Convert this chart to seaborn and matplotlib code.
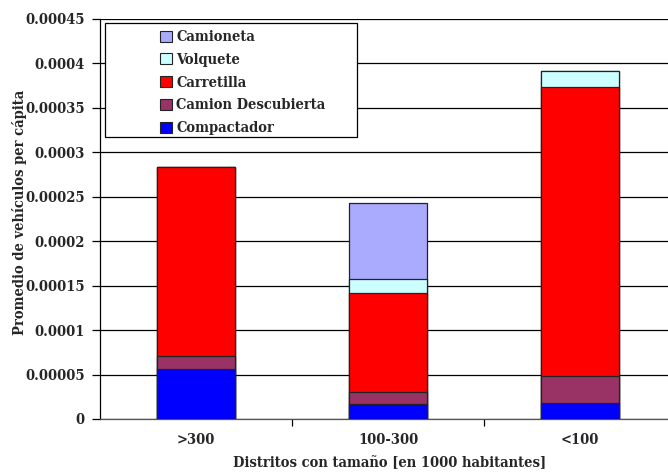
import matplotlib
matplotlib.use("Agg")
import matplotlib.pyplot as plt
from matplotlib.patches import Patch, Rectangle
import numpy as np
import pandas as pd
import seaborn as sns

# District size groups (thousand inhabitants)
districts = [">300", "100-300", "<100"]

# Average vehicles per capita, by vehicle type (bottom to top of the stack)
compactador = [0.0000560, 0.0000165, 0.0000177]
camion_descubierta = [0.0000150, 0.0000142, 0.0000307]
carretilla = [0.0002126, 0.0001107, 0.0003248]
volquete = [0.0, 0.0000165, 0.0000187]
camioneta = [0.0, 0.0000854, 0.0]

series_names = ["Compactador", "Camion Descubierta", "Carretilla", "Volquete", "Camioneta"]
series_values = [compactador, camion_descubierta, carretilla, volquete, camioneta]
series_colors = ["#0000FF", "#993366", "#FF0000", "#CCFFFF", "#AAAAFF"]

y_ticks = [0, 0.00005, 0.0001, 0.00015, 0.0002, 0.00025, 0.0003, 0.00035, 0.0004, 0.00045]
y_tick_labels = ["0", "0.00005", "0.0001", "0.00015", "0.0002", "0.00025",
                 "0.0003", "0.00035", "0.0004", "0.00045"]

sns.set_theme(style="white")
plt.rcParams["font.family"] = ["DejaVu Serif"]
plt.rcParams["font.weight"] = "bold"
plt.rcParams["font.stretch"] = "condensed"

FS = 10.5
fig = plt.figure(figsize=(6.68, 4.72), dpi=100)
ax = fig.add_axes([100 / 668, 53 / 472, 576 / 668, 400 / 472])

# Stacked bars: draw cumulative totals from the top segment downwards
cum = np.cumsum(np.array(series_values), axis=0)
for i in range(len(series_names) - 1, -1, -1):
    df = pd.DataFrame({"district": districts, "value": cum[i]})
    sns.barplot(data=df, x="district", y="value", color=series_colors[i],
                saturation=1, width=0.406, edgecolor="#222222", linewidth=0.9,
                ax=ax, zorder=3)

ax.set_xlim(-0.5, 2.5)
ax.set_ylim(0, 0.00045)
ax.set_yticks(y_ticks)
ax.set_yticklabels(y_tick_labels, fontsize=FS, fontweight="bold")
ax.yaxis.grid(True, color="black", linewidth=0.9, zorder=0)
ax.set_axisbelow(True)

ax.set_xticks([0, 1, 2])
ax.set_xticklabels(districts, fontsize=FS, fontweight="bold")
ax.set_xticks([0.5, 1.5], minor=True)
ax.tick_params(axis="x", which="major", length=0, pad=10)
ax.tick_params(axis="x", which="minor", length=5, width=0.9, color="black", direction="out", bottom=True)
ax.tick_params(axis="y", length=6, width=0.9, color="black", direction="out", left=True, pad=5)

for side in ["top", "right"]:
    ax.spines[side].set_visible(False)
ax.spines["left"].set_color("black")
ax.spines["left"].set_linewidth(0.9)
ax.spines["bottom"].set_color("#555555")
ax.spines["bottom"].set_linewidth(0.9)

ax.set_xlabel("Distritos con tamaño [en 1000 habitantes]", fontsize=FS, fontweight="bold")
ax.set_ylabel("Promedio de vehículos per cápita", fontsize=FS, fontweight="bold")
ax.xaxis.set_label_coords((390 - 100) / 576, -37 / 400)
ax.yaxis.set_label_coords(-73 / 576, (419 - 212) / 400)

# Legend box with entries in top-down stack order
frame = Rectangle((105 / 668, 1 - 137 / 472), (357 - 105) / 668, (137 - 23) / 472,
                  transform=fig.transFigure, facecolor="white", edgecolor="black",
                  linewidth=0.9, zorder=5)
fig.patches.append(frame)
handles = [Patch(facecolor=c, edgecolor="#222222", linewidth=0.8, label=n)
           for n, c in zip(series_names[::-1], series_colors[::-1])]
leg = fig.legend(handles=handles, loc="upper left",
                 bbox_to_anchor=(150 / 668, 1 - 20 / 472), frameon=False,
                 prop={"size": FS, "weight": "bold", "stretch": "condensed"},
                 handlelength=0.8, handleheight=0.8,
                 handletextpad=0.3, labelspacing=0.6, borderpad=0.2)
leg.set_zorder(6)

fig.savefig("out.png", dpi=100)
